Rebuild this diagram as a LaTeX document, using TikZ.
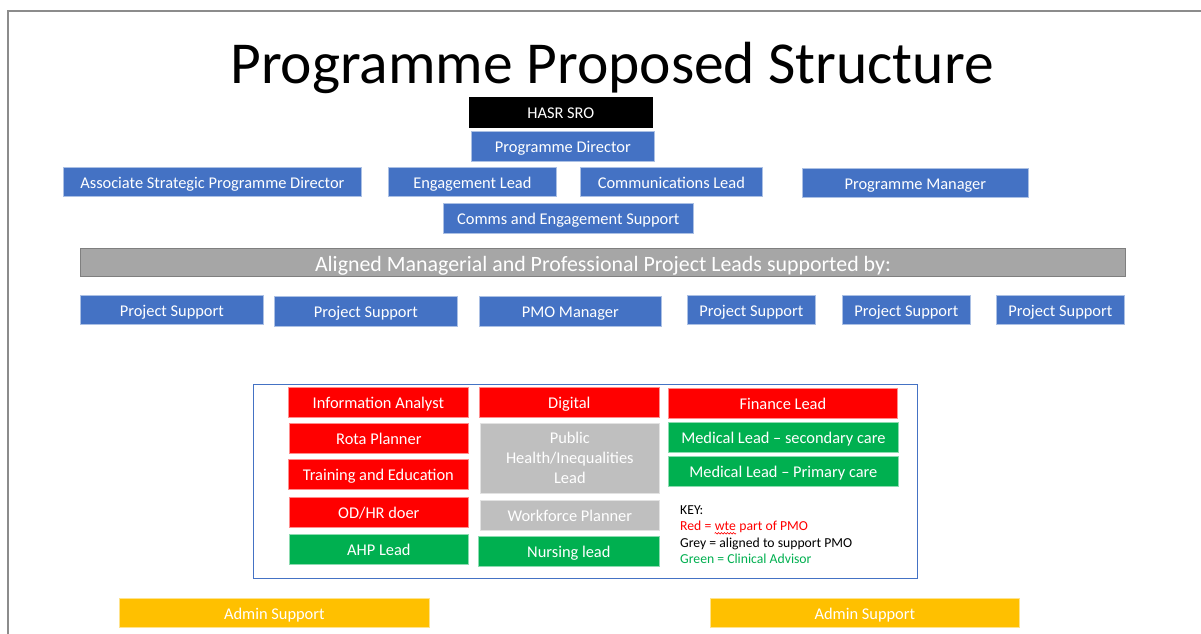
\documentclass[tikz,border=0pt]{standalone}
\usepackage{fontspec}
\setmainfont{Carlito}
\usetikzlibrary{decorations.pathmorphing}
\definecolor{cblue}{HTML}{4472C4}
\definecolor{cred}{HTML}{FF0000}
\definecolor{cgreen}{HTML}{00B050}
\definecolor{cgrey}{HTML}{BFBFBF}
\definecolor{cbar}{HTML}{A6A6A6}
\definecolor{cbarline}{HTML}{7F7F7F}
\definecolor{cgold}{HTML}{FFC000}
\definecolor{cframe}{HTML}{8C8C8C}
\begin{document}
\begin{tikzpicture}[x=1pt,y=-1pt,
  box/.style={anchor=north west, inner sep=0pt, text=white, font=\fontsize{16.4}{20}\selectfont, text height=15.6pt, text depth=2.4pt, line width=0.7pt, align=center},
  bluebox/.style={box, fill=cblue, draw=cblue!45!white},
  redbox/.style={box, fill=cred, draw=cred!45!white},
  greenbox/.style={box, fill=cgreen, draw=cgreen!45!white},
  greybox/.style={box, fill=cgrey, draw=cgrey!45!white},
  goldbox/.style={box, fill=cgold, draw=cgold!45!white},
  blackbox/.style={box, fill=black, draw=black},
  keytext/.style={anchor=base west, inner sep=0pt, font=\fontsize{13.7}{16}\selectfont}]
\useasboundingbox[fill=white] (0,0) rectangle (1201,633);
\draw[cframe, line width=1.5pt] (8,640) -- (8,11) -- (1210,11);

\node[anchor=base, font=\fontsize{59.5}{66}\selectfont, text=black] (title) at (612,83) {Programme Proposed Structure};

\node[blackbox, minimum width=183pt, minimum height=30pt] (sro) at (469,97) {HASR SRO};
\node[bluebox, minimum width=183pt, minimum height=30pt] (pd) at (471,131) {Programme Director};
\node[bluebox, minimum width=298pt, minimum height=29pt] (aspd) at (63,167) {Associate Strategic Programme Director};
\node[bluebox, minimum width=168pt, minimum height=29pt] (el) at (388,167) {Engagement Lead};
\node[bluebox, minimum width=182pt, minimum height=29pt] (cl) at (580,167) {Communications Lead};
\node[bluebox, minimum width=226pt, minimum height=29pt] (pm) at (802,168) {Programme Manager};
\node[bluebox, minimum width=250pt, minimum height=30pt] (ces) at (443,203) {Comms and Engagement Support};

\node[box, fill=cbar, draw=cbarline, line width=1pt, minimum width=1045pt, minimum height=28pt, font=\fontsize{21.9}{24}\selectfont, text height=20pt, text depth=2.9pt] (bar) at (80,248) {Aligned Managerial and Professional Project Leads supported by:};

\node[bluebox, minimum width=183pt, minimum height=29pt] (ps1) at (80,295) {Project Support};
\node[bluebox, minimum width=183pt, minimum height=30pt] (ps2) at (274,296) {Project Support};
\node[bluebox, minimum width=182pt, minimum height=30pt] (pmo) at (479,296) {PMO Manager};
\node[bluebox, minimum width=128pt, minimum height=29pt] (ps3) at (687,295) {Project Support};
\node[bluebox, minimum width=128pt, minimum height=29pt] (ps4) at (842,295) {Project Support};
\node[bluebox, minimum width=128pt, minimum height=29pt] (ps5) at (996,295) {Project Support};

\node[anchor=north west, draw=cblue, line width=0.8pt, inner sep=0pt, minimum width=664pt, minimum height=194pt] (cont) at (253,384) {};

\node[redbox, minimum width=180pt, minimum height=30pt] (ia) at (288,387) {Information Analyst};
\node[redbox, minimum width=180pt, minimum height=30pt] (dig) at (479,387) {Digital};
\node[redbox, minimum width=229pt, minimum height=30pt] (fin) at (668,388) {Finance Lead};
\node[redbox, minimum width=179pt, minimum height=30pt] (rota) at (289,423) {Rota Planner};
\node[greybox, minimum width=179pt, minimum height=70pt, text height=, text depth=] (ph) at (480,423) {Public\\Health/Inequalities\\Lead};
\node[greenbox, minimum width=230pt, minimum height=30pt] (mls) at (668,422) {Medical Lead – secondary care};
\node[redbox, minimum width=180pt, minimum height=30pt] (te) at (288,459) {Training and Education};
\node[greenbox, minimum width=230pt, minimum height=30pt] (mlp) at (668,456) {Medical Lead – Primary care};
\node[redbox, minimum width=179pt, minimum height=30pt] (od) at (289,497) {OD/HR doer};
\node[greybox, minimum width=179pt, minimum height=30pt] (wp) at (480,500) {Workforce Planner};
\node[greenbox, minimum width=179pt, minimum height=30pt] (ahp) at (289,534) {AHP Lead};
\node[greenbox, minimum width=181pt, minimum height=30pt] (nl) at (478,536) {Nursing lead};

\node[keytext] (key1) at (680,514) {KEY:};
\node[keytext, text=cred] (key2a) at (680,530.5) {Red = \mbox{}};
\node[keytext, text=cred] (key2b) at (key2a.base east) {wte};
\node[keytext, text=cred] (key2c) at (key2b.base east) {\mbox{} part of PMO};
\node[keytext] (key3) at (680,547) {Grey = aligned to support PMO};
\node[keytext, text=cgreen] (key4) at (680,563.5) {Green = Clinical Advisor};
\draw[cred, line width=0.6pt, decorate, decoration={snake, amplitude=0.8pt, segment length=3pt}] ([yshift=-2.8pt]key2b.base west) -- ([yshift=-2.8pt]key2b.base east);

\node[goldbox, minimum width=310pt, minimum height=29pt] (as1) at (119,598) {Admin Support};
\node[goldbox, minimum width=309pt, minimum height=29pt] (as2) at (710,598) {Admin Support};
\end{tikzpicture}
\end{document}
